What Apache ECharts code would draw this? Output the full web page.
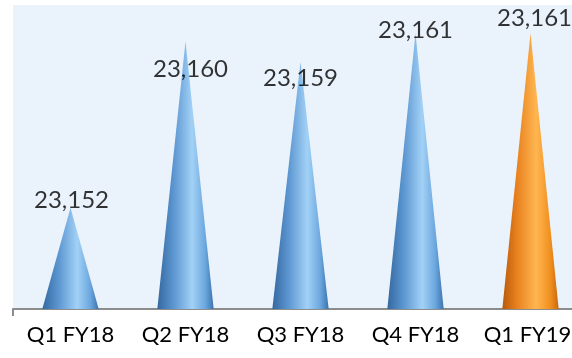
<!DOCTYPE html>
<html>
<head>
<meta charset="utf-8">
<script src="https://cdn.jsdelivr.net/npm/echarts@6/dist/echarts.min.js"></script>
<style>
html,body{margin:0;padding:0;background:#ffffff;}
#chart{width:572px;height:358px;}
</style>
</head>
<body>
<div id="chart"></div>
<script>
// Data
var categories = ['Q1 FY18', 'Q2 FY18', 'Q3 FY18', 'Q4 FY18', 'Q1 FY19'];
var values = [23152.0, 23160.2, 23159.2, 23160.6, 23160.6];
var highlightIndex = 4;

var Y_MIN = 23147, Y_MAX = 23162;

var chart = echarts.init(document.getElementById('chart'), null, {renderer: 'canvas'});

function coneGradient(isHighlight) {
  if (isHighlight) {
    return new echarts.graphic.LinearGradient(0, 0, 1, 0, [
      {offset: 0, color: '#B85A0C'},
      {offset: 0.25, color: '#E7801E'},
      {offset: 0.6, color: '#FFB650'},
      {offset: 0.85, color: '#F0901F'},
      {offset: 1, color: '#C8680E'}
    ]);
  }
  return new echarts.graphic.LinearGradient(0, 0, 1, 0, [
    {offset: 0, color: '#3468A0'},
    {offset: 0.3, color: '#5E98D2'},
    {offset: 0.62, color: '#A2D1F6'},
    {offset: 0.85, color: '#6BA7DE'},
    {offset: 1, color: '#3C73AE'}
  ]);
}

// label nudges (style only)
var labelOffsets = [[1, 5], [5, 40], [0, 29], [0, 9], [4, -3]];

var coneData = values.map(function (v, i) { return [i, v]; });
var labelData = values.map(function (v, i) {
  return {value: [i, v], label: {offset: labelOffsets[i]}};
});
var categoryData = categories.map(function (c, i) {
  return i === categories.length - 1
    ? {value: c, textStyle: {padding: [0, 6, 0, 0]}}
    : c;
});

function renderCone(params, api) {
  var idx = api.value(0);
  var top = api.coord([idx, api.value(1)]);
  var base = api.coord([idx, Y_MIN]);
  var bandW = api.size([1, 0])[0];
  var halfW = bandW * 0.245;
  return {
    type: 'polygon',
    shape: {points: [[top[0], top[1]], [base[0] + halfW, base[1]], [base[0] - halfW, base[1]]]},
    style: {fill: coneGradient(idx === highlightIndex)}
  };
}

var option = {
  animation: false,
  backgroundColor: '#ffffff',
  grid: {
    left: 13, top: 5, width: 575, height: 304,
    outerBoundsMode: 'none',
    containLabel: false,
    show: true, backgroundColor: '#EAF3FC', borderWidth: 0
  },
  xAxis: {
    type: 'category',
    data: categoryData,
    boundaryGap: true,
    axisLine: {show: true, lineStyle: {color: '#8C8C8C', width: 2}},
    axisTick: {
      show: true, length: 7,
      interval: function (index) { return index === 0; },
      lineStyle: {color: '#8C8C8C', width: 2}
    },
    axisLabel: {
      interval: 0,
      color: '#000000', fontFamily: 'Lato', fontSize: 22, margin: 15
    }
  },
  yAxis: {
    type: 'value',
    min: Y_MIN, max: Y_MAX,
    show: false,
    splitLine: {show: false}
  },
  series: [{
    type: 'custom',
    renderItem: renderCone,
    data: coneData,
    z: 2
  }, {
    type: 'scatter',
    symbolSize: 0,
    data: labelData,
    z: 3,
    label: {
      show: true,
      position: 'top',
      distance: 0,
      color: '#000000',
      fontFamily: 'Lato',
      fontSize: 24,
      formatter: function (p) {
        return Math.round(p.value[1]).toLocaleString('en-US');
      }
    }
  }]
};
chart.setOption(option);
</script>
</body>
</html>
